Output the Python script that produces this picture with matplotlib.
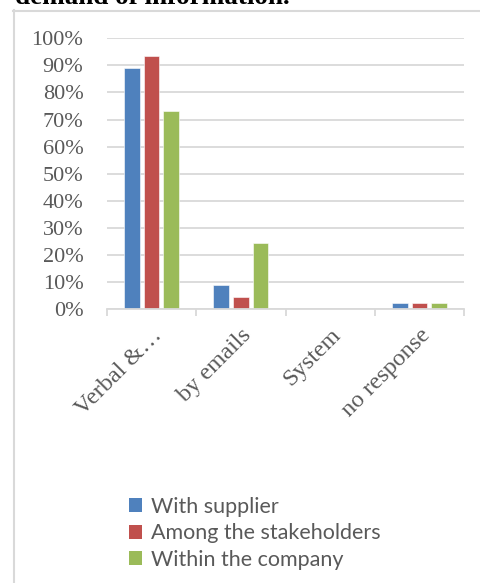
import matplotlib
matplotlib.use("Agg")
import matplotlib.pyplot as plt
import matplotlib.transforms as mtransforms
from matplotlib.lines import Line2D
from matplotlib.patches import Patch
import numpy as np

# survey answers (share of respondents)
categories = ["Verbal &…", "by emails", "System", "no response"]
with_supplier = [0.889, 0.089, 0.0, 0.022]
among_stakeholders = [0.933, 0.044, 0.0, 0.022]
within_company = [0.733, 0.244, 0.0, 0.022]
series_names = ["With supplier", "Among the stakeholders", "Within the company"]
colors = ["#4f81bd", "#c0504d", "#9bbb59"]

grey_txt = "#595959"
grid_col = "#d9d9d9"
serif = "Liberation Serif"

fig = plt.figure(figsize=(4.81, 5.83), dpi=100)
W, H = 481, 583

# heading line cut off at the top of the page
fig.text(15 / W, 1 - 4 / H, "demand of information.", family=serif, weight="bold",
         fontsize=19.5, color="black", ha="left", va="baseline")

# chart frame (left and top edges only)
fig.add_artist(Line2D([13.5 / W, 13.5 / W], [0, 1 - 10 / H], transform=fig.transFigure,
                      color=grid_col, lw=1.5))
fig.add_artist(Line2D([13 / W, 1], [1 - 10.5 / H, 1 - 10.5 / H], transform=fig.transFigure,
                      color=grid_col, lw=1.5))

left, right = 107 / W, 464 / W
bottom, top = 1 - 309.3 / H, 1 - 38.3 / H
ax = fig.add_axes([left, bottom, right - left, top - bottom])

x = np.arange(len(categories))
bw = 0.175
step = 0.22
for i, (vals, name, c) in enumerate(zip([with_supplier, among_stakeholders, within_company],
                                        series_names, colors)):
    ax.bar(x + (i - 1) * step, vals, width=bw, color=c, label=name, zorder=3,
           edgecolor="white", linewidth=0.4)

ax.set_xlim(-0.5, len(categories) - 0.5)
ax.set_ylim(0, 1)
ax.set_yticks(np.arange(0, 1.01, 0.1))
ax.set_yticklabels([f"{int(round(v * 100))}%" for v in np.arange(0, 1.01, 0.1)])
ax.yaxis.grid(True, color=grid_col, lw=1.3, zorder=0)
ax.tick_params(axis="y", length=0, pad=17, labelsize=16, labelcolor=grey_txt)
for lab in ax.get_yticklabels():
    lab.set_family(serif)

for s in ["top", "right", "left"]:
    ax.spines[s].set_visible(False)
ax.spines["bottom"].set_color(grid_col)
ax.spines["bottom"].set_linewidth(1.3)
ax.spines["bottom"].set_zorder(4)

ax.set_xticks(x)
ax.set_xticks(np.arange(-0.5, len(categories), 1.0), minor=True)
ax.tick_params(axis="x", which="minor", length=5, width=1.3, color=grid_col)
ax.tick_params(axis="x", which="major", length=0, pad=11, labelsize=17.5, labelcolor=grey_txt)
ax.set_xticklabels(categories, rotation=45, ha="right", va="top", rotation_mode="anchor")
shift = mtransforms.ScaledTranslation(0, 0, fig.dpi_scale_trans)
for lab in ax.get_xticklabels():
    lab.set_family(serif)
    lab.set_transform(lab.get_transform() + shift)

handles = [Patch(facecolor=c, edgecolor="none") for c in colors]
fig.legend(handles, series_names, loc="upper left", bbox_to_anchor=(129 / W, 1 - 497 / H),
           frameon=False, prop={"family": "Lato", "size": 15.5}, labelcolor=grey_txt,
           handlelength=0.62, handleheight=0.62, handletextpad=0.4, labelspacing=0.3,
           borderaxespad=0, borderpad=0)

fig.savefig("out.png", dpi=100)
